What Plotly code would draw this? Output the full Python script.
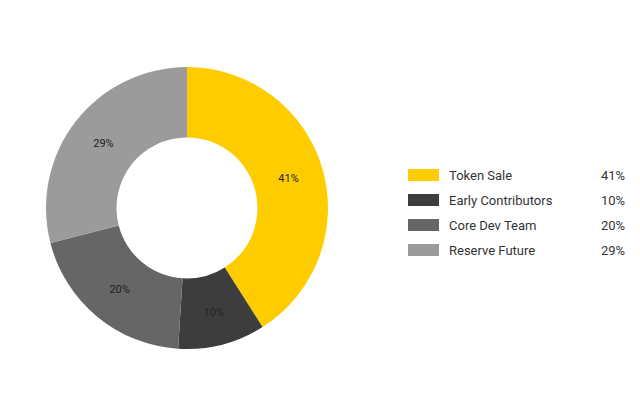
import plotly.graph_objects as go

labels = ["Token Sale", "Early Contributors", "Core Dev Team", "Reserve Future"]
values = [41, 10, 20, 29]
colors = ["#FFCC00", "#3D3D3D", "#666666", "#9B9B9B"]

W, H = 640, 400
fig = go.Figure(go.Pie(
    labels=labels, values=values, hole=0.5, sort=False, direction="clockwise",
    rotation=0, marker=dict(colors=colors, line=dict(width=0)),
    textinfo="percent", texttemplate="%{value}%", textposition="inside",
    insidetextorientation="horizontal",
    textfont=dict(family="Roboto", size=11, color="#222222"),
    domain=dict(x=[38/W, 320/W], y=[59/H, 341/H]), showlegend=False,
))

shapes, annots = [], []
for i, (lab, val, col) in enumerate(zip(labels, values, colors)):
    yc = 167 + 25*i
    shapes.append(dict(type="rect", xref="paper", yref="paper",
                       x0=400/W, x1=431/W, y0=1-(yc+6)/H, y1=1-(yc-6)/H,
                       fillcolor=col, line=dict(width=0)))
    annots.append(dict(x=439/W, y=1-yc/H, xref="paper", yref="paper", text=lab,
                       showarrow=False, xanchor="left", yanchor="middle",
                       font=dict(family="Roboto", size=13, color="#333333")))
    annots.append(dict(x=619/W, y=1-yc/H, xref="paper", yref="paper", text=f"{val}%",
                       showarrow=False, xanchor="right", yanchor="middle",
                       font=dict(family="Roboto", size=13, color="#333333")))

fig.update_layout(width=W, height=H, margin=dict(l=0, r=0, t=0, b=0),
                  paper_bgcolor="white", plot_bgcolor="white",
                  shapes=shapes, annotations=annots)
fig.write_html("out.html")
